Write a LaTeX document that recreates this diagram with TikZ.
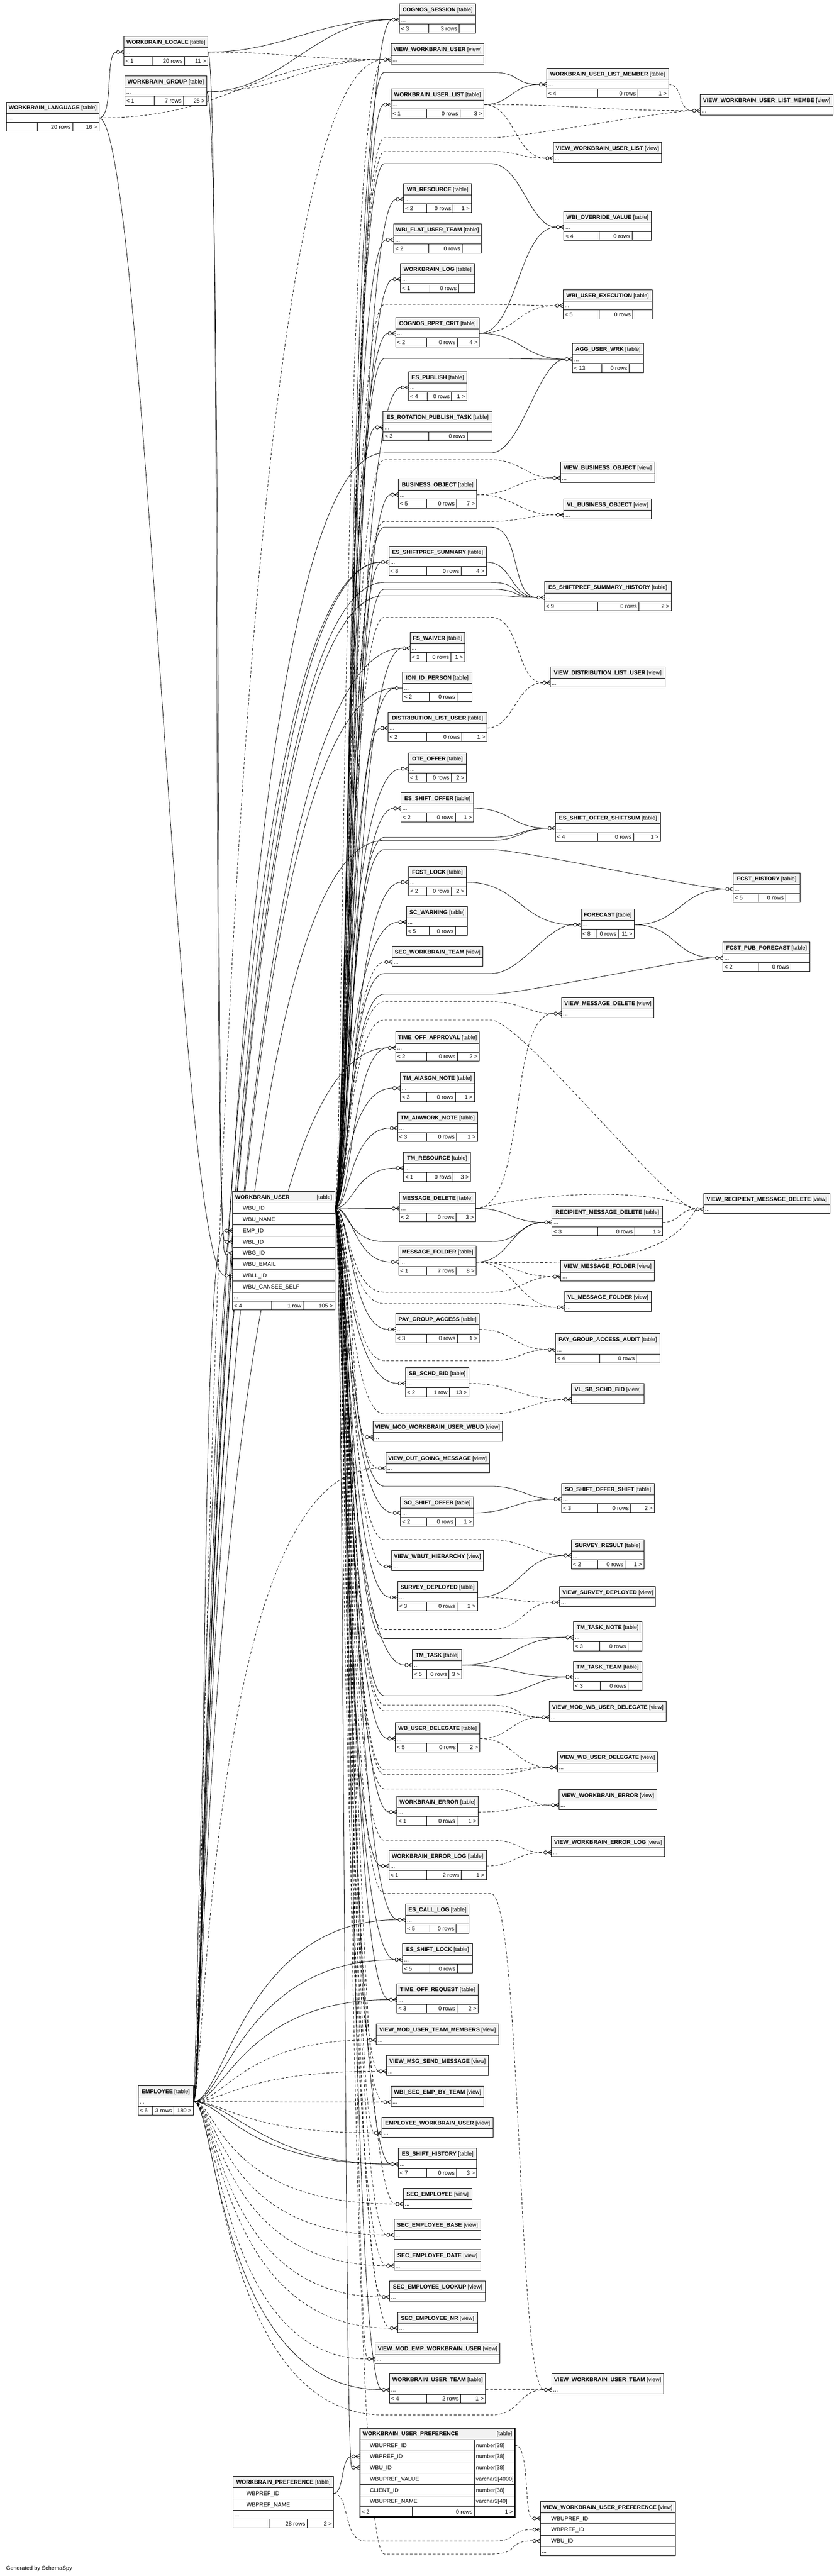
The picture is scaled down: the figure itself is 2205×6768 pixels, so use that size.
\documentclass[tikz,border=0pt]{standalone}
\usepackage{fontspec}
\setmainfont{Liberation Sans}
\usetikzlibrary{calc}
\definecolor{hdrc}{RGB}{242,242,242}
\pgfdeclarelayer{edgel}
\pgfsetlayers{edgel,main}
\tikzset{
  tbox/.style={draw, line width=1.3pt, rectangle, inner sep=0pt, outer sep=0pt},
  ln/.style={line width=1.3pt},
  txt/.style={inner sep=0pt, outer sep=0pt, font=\fontsize{14.8}{17}\selectfont},
  fk/.style={line width=1.1pt},
  vk/.style={line width=1.1pt, dash pattern=on 7pt off 5pt},
  mk/.style={line width=1.2pt},
  crowfoot/.pic={\draw[mk] (-11,0) -- (0,-5.5) (-11,0) -- (0,0) (-11,0) -- (0,5.5);
                 \draw[mk,fill=white] (-15.5,0) circle (4.3);},
  onebar/.pic={\draw[mk] (-11,0) -- (0,0); \draw[mk] (-4,-6) -- (-4,6);
               \draw[mk,fill=white] (-15.5,0) circle (4.3);}
}
% connectors
\newcommand\lkA[4][fk]{\draw[#1] let \p1=(#2), \p2=(#3) in (\p1) .. controls (\x1+#4pt,\y1) and (\x2-#4pt,\y2) .. (\p2);}
\newcommand\lkD[5][fk]{\draw[#1] let \p1=(#2), \p2=(#3) in (\p1) .. controls (#4pt,\y1) and (#5pt,\y2) .. (\p2);}
\newcommand\lkW[2][fk]{\draw[#1] let \p1=(WU-r), \p2=(#2), \n1={900+mod(abs(\y2),31)} in (\p1) .. controls (\n1,\y1) and (\n1,\y2) .. (\p2);}
\newcommand\lkC[5][fk]{\draw[#1] let \p1=(#2), \p2=(#3) in (\p1) .. controls (#4pt,\y1) and (#4pt,-#5pt) .. (1010pt,-#5pt) -- (1290pt,-#5pt) .. controls (1370pt,-#5pt) and (\x2-70pt,\y2) .. (\p2);}
\begin{document}
\begin{tikzpicture}[x=1pt,y=-1pt]
\useasboundingbox (0,0) rectangle (2205,6768);
\begin{pgfonlayer}{edgel}
\fill[white] (0,0) rectangle (2205,6768);
\end{pgfonlayer}

% ---------- compact tables ----------
\foreach \id/\nm/\xl/\xr/\yt/\da/\db/\lt/\mt/\rt in {
LANG/WORKBRAIN\_LANGUAGE/17/260/268/97.5/191/{}/20 rows/16 >,
LOC/WORKBRAIN\_LOCALE/326/546/95/400.5/485/< 1/20 rows/11 >,
GRP/WORKBRAIN\_GROUP/328/543/199.4/405/482/< 1/7 rows/25 >,
EMP/EMPLOYEE/363/508/5480/401/457/< 6/3 rows/180 >,
CS/COGNOS\_SESSION/1050/1250/10/1127/1207/< 3/3 rows/{},
WUL/WORKBRAIN\_USER\_LIST/1028/1272/233/1122/1209/< 1/0 rows/3 >,
WBR/WB\_RESOURCE/1061/1239/482/1122/1191/< 2/0 rows/1 >,
WFUT/WBI\_FLAT\_USER\_TEAM/1035/1265/588/1127/1215/< 2/0 rows/{},
WLOG/WORKBRAIN\_LOG/1053/1247/692/1129/1205/< 1/0 rows/{},
CRC/COGNOS\_RPRT\_CRIT/1040/1260/834/1122/1202/< 2/0 rows/4 >,
ESP/ES\_PUBLISH/1074/1227/976/1123/1187/< 4/0 rows/1 >,
ERPT/ES\_ROTATION\_PUBLISH\_TASK/1007/1293/1081/1127/1228/< 3/0 rows/{},
BO/BUSINESS\_OBJECT/1047/1253/1258/1122/1200/< 5/0 rows/7 >,
ESS/ES\_SHIFTPREF\_SUMMARY/1022/1278/1435/1122/1212/< 8/0 rows/4 >,
FSW/FS\_WAIVER/1078/1222/1661/1122/1185/< 2/0 rows/1 >,
ION/ION\_ID\_PERSON/1058/1240/1766/1128/1201/< 2/0 rows/{},
DLU/DISTRIBUTION\_LIST\_USER/1020/1280/1871/1122/1214/< 2/0 rows/1 >,
OTE/OTE\_OFFER/1074/1225/1978/1122/1186/< 1/0 rows/2 >,
ESO/ES\_SHIFT\_OFFER/1054/1245/2082/1122/1197/< 2/0 rows/1 >,
FL/FCST\_LOCK/1074/1225/2276/1122/1186/< 2/0 rows/2 >,
SCW/SC\_WARNING/1068/1229/2381/1128/1197/< 5/0 rows/{},
TOA/TIME\_OFF\_APPROVAL/1040/1260/2711/1122/1202/< 2/0 rows/2 >,
TAN/TM\_AIASGN\_NOTE/1052/1247/2817/1122/1197/< 3/0 rows/1 >,
TAW/TM\_AIAWORK\_NOTE/1045/1255/2922/1122/1200/< 3/0 rows/1 >,
TR/TM\_RESOURCE/1061/1237/3027/1122/1191/< 1/0 rows/3 >,
MD/MESSAGE\_DELETE/1050/1250/3133/1122/1199/< 2/0 rows/3 >,
MF/MESSAGE\_FOLDER/1048/1252/3274/1122/1199/< 1/7 rows/8 >,
PGA/PAY\_GROUP\_ACCESS/1040/1260/3451/1122/1202/< 3/0 rows/1 >,
SBB/SB\_SCHD\_BID/1066/1232/3593/1122/1181/< 2/1 row/13 >,
SOS/SO\_SHIFT\_OFFER/1053/1245/3933/1122/1197/< 2/0 rows/1 >,
SD/SURVEY\_DEPLOYED/1045/1255/4155/1122/1201/< 3/0 rows/2 >,
TT/TM\_TASK/1084/1214/4333/1122/1180/< 5/0 rows/3 >,
WUD/WB\_USER\_DELEGATE/1039/1261/4526/1122/1203/< 5/0 rows/2 >,
WE/WORKBRAIN\_ERROR/1043/1257/4719/1122/1201/< 1/0 rows/1 >,
WEL/WORKBRAIN\_ERROR\_LOG/1022/1278/4861/1122/1212/< 1/2 rows/1 >,
ECL/ES\_CALL\_LOG/1066/1233/5002/1129/1199/< 5/0 rows/{},
ESL/ES\_SHIFT\_LOCK/1058/1242/5107/1129/1202/< 5/0 rows/{},
TOR/TIME\_OFF\_REQUEST/1043/1257/5212/1122/1201/< 3/0 rows/2 >,
ESH/ES\_SHIFT\_HISTORY/1047/1253/5644/1122/1200/< 7/0 rows/3 >,
WUT/WORKBRAIN\_USER\_TEAM/1024/1276/6237/1122/1211/< 4/2 rows/1 >,
WULM/WORKBRAIN\_USER\_LIST\_MEMBER/1437/1757/180/1571/1676/< 4/0 rows/1 >,
WOV/WBI\_OVERRIDE\_VALUE/1482/1711/555/1575/1661/< 4/0 rows/{},
WUE/WBI\_USER\_EXECUTION/1480/1714/761/1575/1663/< 5/0 rows/{},
AUW/AGG\_USER\_WRK/1505/1691/902/1581/1653/< 13/0 rows/{},
ESSH/ES\_SHIFTPREF\_SUMMARY\_HISTORY/1431/1764/1528/1571/1679/< 9/0 rows/2 >,
ESOS/ES\_SHIFT\_OFFER\_SHIFTSUM/1460/1736/2134/1571/1665/< 4/0 rows/1 >,
FH/FCST\_HISTORY/1927/2103/2294/1993/2065/< 5/0 rows/{},
FC/FORECAST/1527/1667/2388/1567/1625/< 8/0 rows/11 >,
FPF/FCST\_PUB\_FORECAST/1900/2129/2475/1993/2078/< 2/0 rows/{},
RMD/RECIPIENT\_MESSAGE\_DELETE/1451/1742/3170/1571/1668/< 3/0 rows/1 >,
PGAA/PAY\_GROUP\_ACCESS\_AUDIT/1460/1735/3504/1576/1673/< 4/0 rows/{},
SOSS/SO\_SHIFT\_OFFER\_SHIFT/1476/1720/3897/1571/1658/< 3/0 rows/2 >,
SR/SURVEY\_RESULT/1502/1692/4045/1571/1643/< 2/0 rows/1 >,
TTN/TM\_TASK\_NOTE/1507/1687/4260/1576/1650/< 3/0 rows/{},
TTT/TM\_TASK\_TEAM/1507/1687/4364/1577/1651/< 3/0 rows/{}}
{
  \fill[white] (\xl,\yt) rectangle (\xr,\yt+77);
  \fill[hdrc] (\xl,\yt) rectangle (\xr,\yt+30);
  \draw[ln] (\xl,\yt+30) -- (\xr,\yt+30) (\xl,\yt+53.5) -- (\xr,\yt+53.5)
            (\da,\yt+53.5) -- (\da,\yt+77) (\db,\yt+53.5) -- (\db,\yt+77);
  \node[tbox, minimum width={\xr-\xl}, minimum height=77, anchor=north west] (\id) at (\xl,\yt) {};
  \node[txt, anchor=base] (\id-hd) at ({(\xl+\xr)/2},\yt+20.3) {\textbf{\nm}\ [table]};
  \node[txt, anchor=base west] (\id-dt) at (\xl+4,\yt+47) {...};
  \node[txt, anchor=base west] (\id-c1) at (\xl+4,\yt+70.5) {\lt};
  \node[txt, anchor=base east] (\id-c2) at (\db-5,\yt+70.5) {\mt};
  \node[txt, anchor=base east] (\id-c3) at (\xr-5,\yt+70.5) {\rt};
  \coordinate (\id-l) at (\xl-20,\yt+41.75);
  \coordinate (\id-r) at (\xr,\yt+41.75);
  \coordinate (\id-m) at (\xl,\yt+41.75);
}

% ---------- views ----------
\foreach \id/\nm/\xl/\xr/\yt in {
VWU/VIEW\_WORKBRAIN\_USER/1028/1272/115,
VWULM/VIEW\_WORKBRAIN\_USER\_LIST\_MEMBE/1840/2190/249,
VWUL/VIEW\_WORKBRAIN\_USER\_LIST/1454/1739/374,
VBO/VIEW\_BUSINESS\_OBJECT/1473/1721/1214,
VLBO/VL\_BUSINESS\_OBJECT/1482/1711/1311,
VDLU/VIEW\_DISTRIBUTION\_LIST\_USER/1446/1748/1752,
SWT/SEC\_WORKBRAIN\_TEAM/1031/1269/2486,
VMD/VIEW\_MESSAGE\_DELETE/1476/1719/2621,
VRMD/VIEW\_RECIPIENT\_MESSAGE\_DELETE/1849/2181/3135,
VMF/VIEW\_MESSAGE\_FOLDER/1474/1720/3312,
VLMF/VL\_MESSAGE\_FOLDER/1484/1711/3393,
VLSB/VL\_SB\_SCHD\_BID/1502/1692/3635,
VMWU/VIEW\_MOD\_WORKBRAIN\_USER\_WBUD/980/1320/3734,
VOGM/VIEW\_OUT\_GOING\_MESSAGE/1014/1286/3816,
VWH/VIEW\_WBUT\_HIERARCHY/1030/1270/4074,
VSD/VIEW\_SURVEY\_DEPLOYED/1471/1723/4168,
VMWUD/VIEW\_MOD\_WB\_USER\_DELEGATE/1444/1751/4470,
VWUD/VIEW\_WB\_USER\_DELEGATE/1465/1728/4602,
VWE/VIEW\_WORKBRAIN\_ERROR/1469/1726/4701,
VWEL/VIEW\_WORKBRAIN\_ERROR\_LOG/1449/1747/4825,
VMUTM/VIEW\_MOD\_USER\_TEAM\_MEMBERS/989/1311/5318,
VMSM/VIEW\_MSG\_SEND\_MESSAGE/1016/1284/5400,
WSEBT/WBI\_SEC\_EMP\_BY\_TEAM/1028/1272/5481,
EWU/EMPLOYEE\_WORKBRAIN\_USER/1004/1296/5562,
SE/SEC\_EMPLOYEE/1060/1240/5749,
SEB/SEC\_EMPLOYEE\_BASE/1036/1264/5830,
SED/SEC\_EMPLOYEE\_DATE/1036/1264/5911,
SEL/SEC\_EMPLOYEE\_LOOKUP/1024/1276/5993,
SEN/SEC\_EMPLOYEE\_NR/1045/1255/6075,
VMEWU/VIEW\_MOD\_EMP\_WORKBRAIN\_USER/986/1314/6156,
VWUT/VIEW\_WORKBRAIN\_USER\_TEAM/1450/1744/6237}
{
  \fill[white] (\xl,\yt) rectangle (\xr,\yt+53);
  \fill[hdrc] (\xl,\yt) rectangle (\xr,\yt+30);
  \draw[ln] (\xl,\yt+30) -- (\xr,\yt+30);
  \node[tbox, minimum width={\xr-\xl}, minimum height=53, anchor=north west] (\id) at (\xl,\yt) {};
  \node[txt, anchor=base] (\id-hd) at ({(\xl+\xr)/2},\yt+20.3) {\textbf{\nm}\ [view]};
  \node[txt, anchor=base west] (\id-dt) at (\xl+4,\yt+47) {...};
  \coordinate (\id-l) at (\xl-20,\yt+41.75);
  \coordinate (\id-r) at (\xr,\yt+41.75);
  \coordinate (\id-m) at (\xl,\yt+41.75);
}

% ---------- WORKBRAIN_USER ----------
\fill[white] (611,3130) rectangle (880,3442);
\fill[hdrc] (611,3130) rectangle (880,3159);
\foreach \yy in {3159,3189,3218,3248,3277,3307,3336,3366,3395,3419} \draw[ln] (611,\yy) -- (880,\yy);
\draw[ln] (714,3419) -- (714,3442) (797,3419) -- (797,3442);
\node[tbox, minimum width=269, minimum height=312, anchor=north west] (WU) at (611,3130) {};
\node[txt, anchor=base west] (WU-hd) at (618,3150.3) {\textbf{WORKBRAIN\_USER}};
\node[txt, anchor=base east] (WU-tg) at (873,3150.3) {[table]};
\foreach \nm/\yy [count=\i] in {WBU\_ID/3174, WBU\_NAME/3203.5, EMP\_ID/3233, WBL\_ID/3262.5, WBG\_ID/3292, WBU\_EMAIL/3321.5, WBLL\_ID/3351, WBU\_CANSEE\_SELF/3380.5}
  \node[txt, anchor=base west] (WU-c\i) at (638,\yy+5.3) {\nm};
\node[txt, anchor=base west] (WU-dt) at (615,3412.3) {...};
\node[txt, anchor=base west] (WU-b1) at (615,3435.8) {< 4};
\node[txt, anchor=base east] (WU-b2) at (792,3435.8) {1 row};
\node[txt, anchor=base east] (WU-b3) at (875,3435.8) {105 >};
\coordinate (WU-r) at (880,3174);
\coordinate (WU-e) at (591,3233);
\coordinate (WU-lc) at (591,3262.5);
\coordinate (WU-g) at (591,3292);
\coordinate (WU-ll) at (591,3351);

% ---------- WORKBRAIN_PREFERENCE ----------
\fill[white] (613,6506) rectangle (877,6642);
\fill[hdrc] (613,6506) rectangle (877,6536);
\foreach \yy in {6536,6565.5,6595,6618.5} \draw[ln] (613,\yy) -- (877,\yy);
\draw[ln] (707,6618.5) -- (707,6642) (807,6618.5) -- (807,6642);
\node[tbox, minimum width=264, minimum height=136, anchor=north west] (WP) at (613,6506) {};
\node[txt, anchor=base] (WP-hd) at (745,6526.3) {\textbf{WORKBRAIN\_PREFERENCE}\ [table]};
\node[txt, anchor=base west] (WP-c1) at (648,6556) {WBPREF\_ID};
\node[txt, anchor=base west] (WP-c2) at (648,6585.5) {WBPREF\_NAME};
\node[txt, anchor=base west] (WP-dt) at (617,6612) {...};
\node[txt, anchor=base east] (WP-b2) at (802,6635.5) {28 rows};
\node[txt, anchor=base east] (WP-b3) at (872,6635.5) {2 >};
\coordinate (WP-r) at (877,6551);

% ---------- WORKBRAIN_USER_PREFERENCE ----------
\fill[white] (946,6379) rectangle (1353,6613);
\fill[hdrc] (946,6379) rectangle (1353,6409.5);
\foreach \yy in {6409.5,6439,6468.5,6498,6527.5,6557,6586.5} \draw[ln] (946,\yy) -- (1353,\yy);
\draw[ln] (1247,6409.5) -- (1247,6613) (1083,6586.5) -- (1083,6613);
\node[draw, line width=3pt, rectangle, inner sep=0pt, outer sep=0pt, minimum width=407, minimum height=234, anchor=north west] (WUP) at (946,6379) {};
\node[txt, anchor=base west] (WUP-hd) at (953,6399.5) {\textbf{WORKBRAIN\_USER\_PREFERENCE}};
\node[txt, anchor=base east] (WUP-tg) at (1346,6399.5) {[table]};
\foreach \nm/\ty/\yy [count=\i] in {WBUPREF\_ID/number[38]/6424.25, WBPREF\_ID/number[38]/6453.75, WBU\_ID/number[38]/6483.25, WBUPREF\_VALUE/varchar2[4000]/6512.75, CLIENT\_ID/number[38]/6542.25, WBUPREF\_NAME/varchar2[40]/6571.75}
{
  \node[txt, anchor=base west] (WUP-c\i) at (972,\yy+5.3) {\nm};
  \node[txt, anchor=base west] (WUP-t\i) at (1251,\yy+5.3) {\ty};
}
\node[txt, anchor=base west] (WUP-b1) at (950,6605) {< 2};
\node[txt, anchor=base east] (WUP-b2) at (1242,6605) {0 rows};
\node[txt, anchor=base east] (WUP-b3) at (1348,6605) {1 >};
\coordinate (WUP-r) at (1353,6424.25);
\coordinate (WUP-p) at (924.5,6453.75);
\coordinate (WUP-u) at (924.5,6483.25);

% ---------- VIEW_WORKBRAIN_USER_PREFERENCE ----------
\fill[white] (1420,6572) rectangle (1775,6714);
\fill[hdrc] (1420,6572) rectangle (1775,6602);
\foreach \yy in {6602,6631,6661,6690} \draw[ln] (1420,\yy) -- (1775,\yy);
\node[tbox, minimum width=355, minimum height=142, anchor=north west] (VWUP) at (1420,6572) {};
\node[txt, anchor=base] (VWUP-hd) at (1597.5,6592.3) {\textbf{VIEW\_WORKBRAIN\_USER\_PREFERENCE}\ [view]};
\node[txt, anchor=base west] (VWUP-c1) at (1449,6621.8) {WBUPREF\_ID};
\node[txt, anchor=base west] (VWUP-c2) at (1449,6651.3) {WBPREF\_ID};
\node[txt, anchor=base west] (VWUP-c3) at (1449,6680.8) {WBU\_ID};
\node[txt, anchor=base west] (VWUP-dt) at (1424,6707.3) {...};
\coordinate (VWUP-a) at (1400,6616.5);
\coordinate (VWUP-b) at (1400,6646);
\coordinate (VWUP-c) at (1400,6675.5);

\node[txt, anchor=base west] (gen) at (16,6752) {Generated by SchemaSpy};

% ---------- markers ----------
\foreach \id in {LOC,CS,WUL,WBR,WFUT,WLOG,CRC,ESP,ERPT,BO,ESS,FSW,DLU,OTE,ESO,FL,SCW,TOA,TAN,TAW,TR,MD,MF,PGA,SBB,SOS,SD,TT,WUD,WE,WEL,ECL,ESL,TOR,ESH,WUT,WULM,WOV,WUE,AUW,ESSH,ESOS,FH,FC,FPF,RMD,PGAA,SOSS,SR,TTN,TTT,VWU,VWULM,VWUL,VBO,VLBO,VDLU,SWT,VMD,VRMD,VMF,VLMF,VLSB,VMWU,VOGM,VWH,VSD,VMWUD,VWUD,VWE,VWEL,VMUTM,VMSM,WSEBT,EWU,SE,SEB,SED,SEL,SEN,VMEWU,VWUT}
  \pic at (\id-m) {crowfoot};
\pic at (ION-m) {onebar};
\foreach \yy in {3233,3262.5,3292,3351} \pic at (611,\yy) {crowfoot};
\foreach \yy in {6453.75,6483.25} \pic at (944.5,\yy) {crowfoot};
\foreach \yy in {6616.5,6646,6675.5} \pic at (1420,\yy) {crowfoot};

% ---------- connectors ----------
\begin{pgfonlayer}{edgel}
\lkD{LANG-r}{LOC-l}{300}{275}
\lkA[vk]{LANG-r}{VWU-l}{350}
\lkD{LANG-r}{WU-ll}{380}{470}
\lkA{LOC-r}{CS-l}{200}
\lkA[vk]{LOC-r}{VWU-l}{200}
\lkD{LOC-r}{WU-lc}{580}{560}
\lkA{GRP-r}{CS-l}{200}
\lkA[vk]{GRP-r}{VWU-l}{200}
\lkD{GRP-r}{WU-g}{585}{565}
% WORKBRAIN_USER bundle
\foreach \tg in {CS,WUL,WBR,WFUT,WLOG,CRC,ESP,ERPT,BO,ESS,FSW,ION,DLU,OTE,ESO,FL,SCW,TOA,TAN,TAW,TR,MD,MF,PGA,SBB,SOS,SD,TT,WUD,WE,WEL,ECL,ESL,TOR,ESH,WUT}
  {\lkW{\tg-l}}
\foreach \tg in {VWU,SWT,VMWU,VOGM,VWH,VMUTM,VMSM,WSEBT,EWU,SE,SEB,SED,SEL,SEN,VMEWU}
  {\lkW[vk]{\tg-l}}
\lkW{WUP-u}
\foreach \tg/\gy in {WULM/190,WOV/430,AUW/942,ESSH/1385,ESSH/1548,ESOS/2200,FH/2232,FC/2558,FPF/2612,RMD/3262,SOSS/3905,TTN/4305,TTT/4455}
  {\lkC{WU-r}{\tg-l}{915}{\gy}}
\foreach \tg/\gy in {VWULM/362,VWUL/398,WUE/800,VBO/1208,VLBO/1370,VDLU/1622,VMD/2632,VRMD/2680,VMF/3395,VLMF/3425,PGAA/3575,VLSB/3715,SR/4045,VSD/4282,VMWUD/4480,VMWUD/4495,VWUD/4650,VWUD/4662,VWE/4700,VWEL/4835,VWUT/4975}
  {\lkC[vk]{WU-r}{\tg-l}{915}{\gy}}
\lkC[vk]{WU-r}{VWUP-c}{915}{6710}
% EMPLOYEE
\lkD{EMP-r}{WU-e}{545}{520}
\foreach \tg in {FSW,ION,ESS,TOA} {\lkD{EMP-r}{\tg-l}{540}{540}}
\lkD{EMP-r}{ESS-l}{525}{525}
\foreach \tg in {VWU,VOGM} {\lkD[vk]{EMP-r}{\tg-l}{540}{540}}
\foreach \gy in {1530,1565} {\lkC{EMP-r}{ESSH-l}{540}{\gy}}
\lkC{EMP-r}{ESOS-l}{540}{2208}
\lkC{EMP-r}{AUW-l}{540}{1190}
\foreach \tg in {ECL,ESL,TOR,ESH} {\lkD{EMP-r}{\tg-l}{590}{640}}
\lkD{EMP-r}{ESH-l}{610}{700}
\foreach \tg in {VMUTM,VMSM,WSEBT,EWU} {\lkD[vk]{EMP-r}{\tg-l}{590}{640}}
\foreach \tg in {SE,SEB,SED,SEL,SEN,VMEWU} {\lkD[vk]{EMP-r}{\tg-l}{575}{575}}
\lkD{EMP-r}{WUT-l}{570}{570}
\lkC[vk]{EMP-r}{VWUT-l}{575}{6345}
% preferences
\lkD{WP-r}{WUP-p}{905}{895}
\draw[vk] (WP-r) .. controls (920,6551) and (900,6676) .. (960,6676) -- (1300,6676) .. controls (1360,6676) and (1340,6646) .. (VWUP-b);
\lkD[vk]{WUP-r}{VWUP-a}{1395}{1375}
% column to column
\lkA{WUL-r}{WULM-l}{70}
\lkA[vk]{WUL-r}{VWULM-l}{250}
\lkA[vk]{WUL-r}{VWUL-l}{80}
\lkA[vk]{WULM-r}{VWULM-l}{40}
\lkA{CRC-r}{WOV-l}{100}
\lkA[vk]{CRC-r}{WUE-l}{100}
\lkA{CRC-r}{AUW-l}{110}
\lkA[vk]{BO-r}{VBO-l}{100}
\lkA[vk]{BO-r}{VLBO-l}{100}
\lkA{ESS-r}{ESSH-l}{70}
\lkA[vk]{DLU-r}{VDLU-l}{70}
\lkA{ESO-r}{ESOS-l}{100}
\lkA{FL-r}{FC-l}{140}
\lkA{FC-r}{FH-l}{120}
\lkA{FC-r}{FPF-l}{110}
\lkA{MD-r}{RMD-l}{90}
\lkD[vk]{MD-r}{VMD-l}{1390}{1330}
\draw[vk] (MD-r) .. controls (1450,3130) and (1700,3120) .. (VRMD-l);
\lkA[vk]{RMD-r}{VRMD-l}{45}
\lkA{MF-r}{RMD-l}{90}
\lkA[vk]{MF-r}{VMF-l}{100}
\lkA[vk]{MF-r}{VLMF-l}{100}
\draw[vk] (MF-r) .. controls (1600,3325) and (1760,3300) .. (VRMD-l);
\lkA[vk]{PGA-r}{PGAA-l}{90}
\lkA[vk]{SBB-r}{VLSB-l}{120}
\lkA{SOS-r}{SOSS-l}{100}
\lkA{SD-r}{SR-l}{110}
\lkA[vk]{SD-r}{VSD-l}{100}
\lkA{TT-r}{TTN-l}{130}
\lkA{TT-r}{TTT-l}{130}
\lkA[vk]{WUD-r}{VMWUD-l}{80}
\lkA[vk]{WUD-r}{VWUD-l}{90}
\lkA[vk]{WE-r}{VWE-l}{100}
\lkA[vk]{WEL-r}{VWEL-l}{75}
\lkA[vk]{WUT-r}{VWUT-l}{70}
\end{pgfonlayer}
\end{tikzpicture}
\end{document}
